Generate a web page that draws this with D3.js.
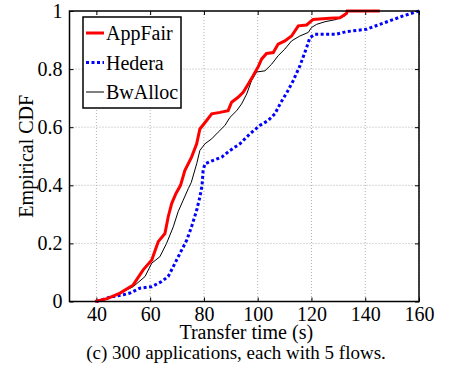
<!DOCTYPE html>
<html>
<head>
<meta charset="utf-8">
<script src="https://cdn.jsdelivr.net/npm/d3@7"></script>
<style>
	body { margin: 0; background: #fff; }
	svg { display: block; font-family: "Liberation Serif", "Times New Roman", serif; }
	.tick text { font-size: 20px; fill: #000; font-family: "Liberation Serif", "Times New Roman", serif; }
	.grid line { stroke: #b0b0b0; stroke-dasharray: 1,2; stroke-width: 1; }
</style>
</head>
<body>
<div id="chart"></div>
<script>
// x ticks and y ticks as shown
const xTicks = [40, 60, 80, 100, 120, 140, 160];
const yTicks = [0, 0.2, 0.4, 0.6, 0.8, 1];

// series: [transfer time (s), empirical CDF]
const appFair = [[39.5,0],[44,0.01],[48.8,0.029],[53.7,0.057],[57.4,0.109],[60.6,0.143],[63,0.206],[65.5,0.234],[66.7,0.291],[68,0.337],[69.6,0.372],[71.3,0.4],[72.9,0.451],[75.4,0.497],[77.3,0.543],[78.5,0.594],[81,0.623],[82.9,0.646],[86,0.651],[89,0.657],[90.3,0.686],[92.7,0.703],[94.6,0.72],[96.5,0.749],[98.3,0.777],[100.3,0.81],[101.5,0.835],[103.3,0.854],[105.8,0.857],[107.6,0.886],[110.1,0.897],[112.6,0.914],[115.1,0.949],[118.2,0.952],[120.6,0.971],[126.8,0.975],[130.6,0.977],[133,0.991],[133.3,1],[145.4,1]];
const hedera = [[40,0],[45.1,0.015],[50,0.023],[52.5,0.029],[56.2,0.046],[60.6,0.051],[64.3,0.069],[66.7,0.086],[68.6,0.12],[71.1,0.166],[73.6,0.211],[75.4,0.257],[77.3,0.314],[78.5,0.36],[79.3,0.4],[79.7,0.451],[80.4,0.474],[83.5,0.486],[86.6,0.497],[89.7,0.52],[93.4,0.543],[97.1,0.577],[100.8,0.606],[103.9,0.623],[106.4,0.646],[108.6,0.685],[110.9,0.72],[113.2,0.76],[115.7,0.811],[118.2,0.874],[119.4,0.908],[121.3,0.92],[129.3,0.92],[133,0.929],[140.5,0.937],[145.4,0.954],[149.1,0.966],[154.1,0.983],[160,1]];
const bwAlloc = [[39.5,0],[45,0.012],[50,0.034],[53.7,0.051],[58.1,0.086],[60.6,0.132],[63.6,0.154],[66.1,0.2],[68.6,0.257],[70.4,0.309],[72.3,0.349],[74.2,0.389],[75.3,0.41],[77.3,0.474],[78.5,0.52],[80.4,0.543],[82.9,0.56],[85.3,0.583],[87.8,0.606],[89.7,0.634],[92.2,0.657],[94,0.68],[95.9,0.714],[97.7,0.76],[99.6,0.79],[102.7,0.794],[105.2,0.817],[107.6,0.846],[110.1,0.869],[112.6,0.897],[115.7,0.914],[118.8,0.926],[120,0.943],[121.9,0.954],[125,0.963],[129.3,0.971],[132.4,0.983],[133,0.992],[133.3,1],[145.4,1]];

const seriesNames = ["AppFair", "Hedera", "BwAlloc"];

const width = 453, height = 368;
const margin = {top: 11, right: 34, bottom: 66.5, left: 69.5};
const w = width - margin.left - margin.right;
const h = height - margin.top - margin.bottom;

const x = d3.scaleLinear().domain([30, 160]).range([0, w]);
const y = d3.scaleLinear().domain([0, 1]).range([h, 0]);

const svg = d3.select("#chart").append("svg")
	.attr("width", width)
	.attr("height", height);

const g = svg.append("g").attr("transform", `translate(${margin.left},${margin.top})`);

// dotted grid
g.append("g").attr("class", "grid")
	.selectAll("line").data(xTicks).join("line")
	.attr("x1", d => x(d)).attr("x2", d => x(d))
	.attr("y1", 0).attr("y2", h);
g.append("g").attr("class", "grid")
	.selectAll("line").data(yTicks.slice(1, -1)).join("line")
	.attr("x1", 0).attr("x2", w)
	.attr("y1", d => y(d)).attr("y2", d => y(d));

// axes, inward ticks on all four sides
const fmt = d => d === 0 || d === 1 ? String(d) : d3.format(".1f")(d);

g.append("g")
	.attr("transform", `translate(0,${h})`)
	.call(d3.axisBottom(x).tickValues(xTicks).tickSizeInner(-4).tickSizeOuter(0).tickPadding(5))
	.call(a => a.select(".domain").remove());
g.append("g")
	.call(d3.axisTop(x).tickValues(xTicks).tickSizeInner(-4).tickSizeOuter(0).tickFormat(""))
	.call(a => a.select(".domain").remove());
g.append("g")
	.call(d3.axisLeft(y).tickValues(yTicks).tickFormat(fmt).tickSizeInner(-4).tickSizeOuter(0).tickPadding(7))
	.call(a => a.select(".domain").remove());
g.append("g")
	.attr("transform", `translate(${w},0)`)
	.call(d3.axisRight(y).tickValues(yTicks).tickSizeInner(-4).tickSizeOuter(0).tickFormat(""))
	.call(a => a.select(".domain").remove());

g.selectAll(".tick line").attr("stroke", "#000");
g.selectAll("g[font-family]").attr("font-family", null);

// lines
const line = d3.line().x(d => x(d[0])).y(d => y(d[1]));

g.append("path").datum(hedera)
	.attr("fill", "none").attr("stroke", "#0000ff")
	.attr("stroke-width", 3).attr("stroke-dasharray", "3,2.5")
	.attr("d", line);
g.append("path").datum(bwAlloc)
	.attr("fill", "none").attr("stroke", "#000")
	.attr("stroke-width", 1).attr("d", line);
g.append("path").datum(appFair)
	.attr("fill", "none").attr("stroke", "#ff0000")
	.attr("stroke-width", 3).attr("d", line);

// frame
g.append("rect")
	.attr("width", w).attr("height", h)
	.attr("fill", "none").attr("stroke", "#000").attr("stroke-width", 1.5);

// legend
const legend = g.append("g").attr("transform", "translate(13.5,6)");
legend.append("rect")
	.attr("width", 98).attr("height", 91)
	.attr("fill", "#fff").attr("stroke", "#000").attr("stroke-width", 1.5);
const styles = [
	{stroke: "#ff0000", width: 3, dash: null},
	{stroke: "#0000ff", width: 3, dash: "3,2.5"},
	{stroke: "#000", width: 1, dash: null}
];
seriesNames.forEach((name, i) => {
	const ly = 16 + i * 29.5;
	legend.append("line")
		.attr("x1", 3).attr("x2", 21).attr("y1", ly).attr("y2", ly)
		.attr("stroke", styles[i].stroke).attr("stroke-width", styles[i].width)
		.attr("stroke-dasharray", styles[i].dash);
	legend.append("text")
		.attr("x", 23).attr("y", ly + 7)
		.attr("font-size", 20)
		.text(name);
});

// axis titles and caption
svg.append("text")
	.attr("x", margin.left + w / 2 + 2).attr("y", 339)
	.attr("text-anchor", "middle").attr("font-size", 20)
	.text("Transfer time (s)");
svg.append("text")
	.attr("transform", `translate(33,${margin.top + h / 2}) rotate(-90)`)
	.attr("text-anchor", "middle").attr("font-size", 20)
	.text("Empirical CDF");
svg.append("text")
	.attr("x", 236).attr("y", 359)
	.attr("text-anchor", "middle").attr("font-size", 19)
	.text("(c) 300 applications, each with 5 flows.");
</script>
</body>
</html>
